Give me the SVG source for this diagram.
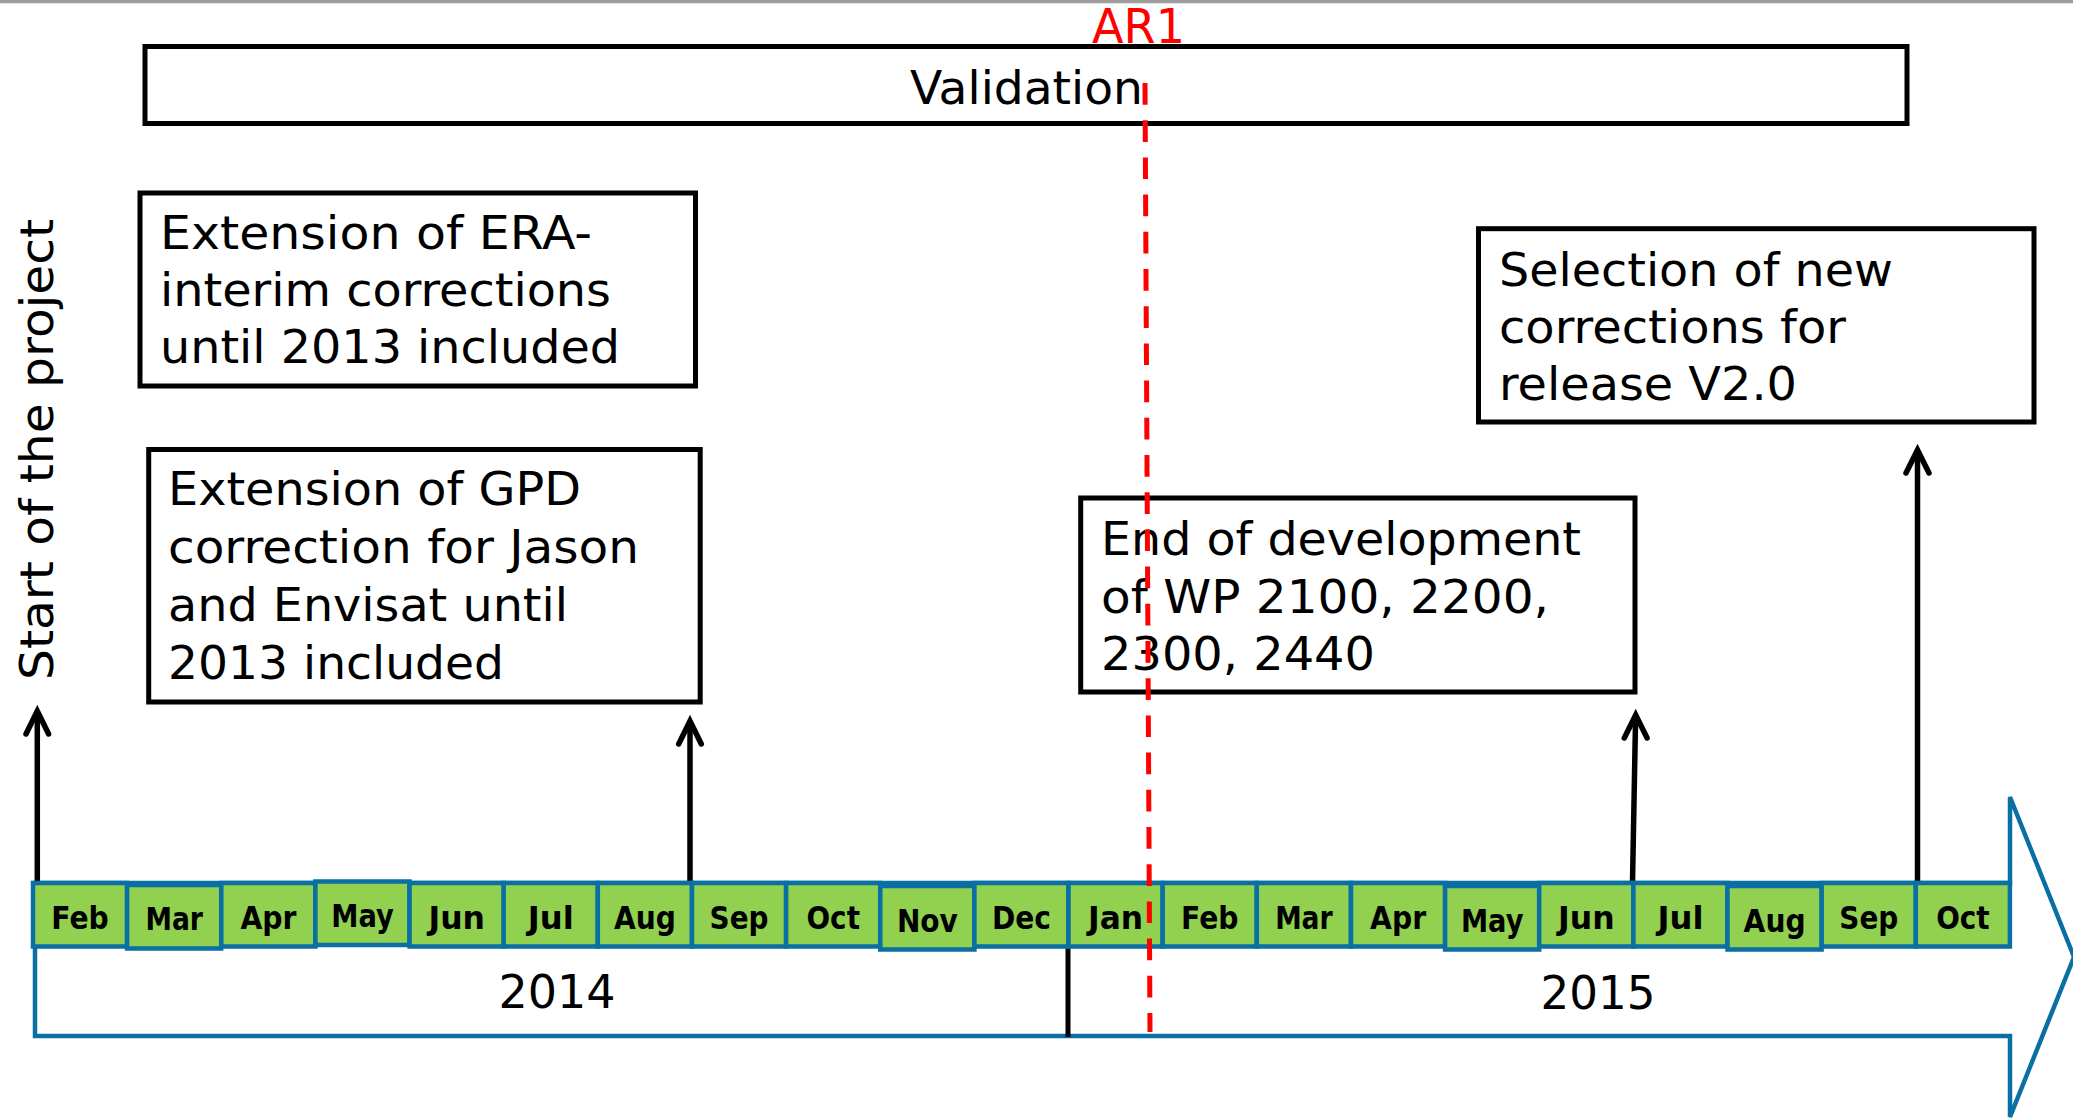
<svg xmlns="http://www.w3.org/2000/svg" width="2073" height="1118" viewBox="0 0 2073 1118">
<style>
.box{fill:#ffffff;stroke:#000000;stroke-width:5}
.txt{font-family:"DejaVu Sans","Verdana",sans-serif;font-size:46px;fill:#000000}
.mon{fill:#92d050;stroke:#0a6fa2;stroke-width:4.5}
.ml{font-family:"DejaVu Sans","Verdana",sans-serif;font-size:32px;font-weight:bold;fill:#000000;text-anchor:middle}
.yr{font-family:"DejaVu Sans","Verdana",sans-serif;font-size:47px;fill:#000000;text-anchor:middle}
.arr{fill:none;stroke:#000000;stroke-width:5.5;stroke-linecap:round;stroke-linejoin:miter}
</style>
<rect x="0" y="0" width="2073" height="1118" fill="#ffffff"/>
<rect x="0" y="0" width="2073" height="3.3" fill="#9d9d9d"/>

<g id="timeline">
<path d="M35,883 H2010 V797 L2074,957 L2010,1117 V1036 H35 Z" fill="#ffffff" stroke="#0a6fa2" stroke-width="4.5" stroke-linejoin="miter"/>
<line x1="1068" y1="948" x2="1068" y2="1037" stroke="#000000" stroke-width="5"/>
<text class="yr" x="557" y="1008" textLength="117" lengthAdjust="spacingAndGlyphs">2014</text>
<text class="yr" x="1598" y="1009" textLength="115" lengthAdjust="spacingAndGlyphs">2015</text>
</g>

<g id="connectors">
<line class="arr" x1="37.3" y1="882" x2="37.3" y2="713"/>
<polyline class="arr" points="26,734 37.3,711 48.6,734"/>
<line class="arr" x1="690" y1="882" x2="690" y2="723"/>
<polyline class="arr" points="678.7,744 690,721 701.3,744"/>
<line class="arr" x1="1632.5" y1="883" x2="1635.6" y2="717"/>
<polyline class="arr" points="1624.3,738 1635.7,715 1647.1,738"/>
<line class="arr" x1="1917.5" y1="882" x2="1917.5" y2="452"/>
<polyline class="arr" points="1906,473 1917.5,450 1929,473"/>
</g>

<g id="months">
<g id="m-feb14"><rect class="mon" x="33" y="883" width="94.1" height="63.5"/><text class="ml" x="80" y="928.5" textLength="57.5" lengthAdjust="spacingAndGlyphs">Feb</text></g>
<g id="m-mar14"><rect class="mon" x="127.1" y="885" width="94.1" height="63.5"/><text class="ml" x="174.2" y="930" textLength="57.5" lengthAdjust="spacingAndGlyphs">Mar</text></g>
<g id="m-apr14"><rect class="mon" x="221.3" y="883" width="94.1" height="63.5"/><text class="ml" x="268.4" y="928.5" textLength="56" lengthAdjust="spacingAndGlyphs">Apr</text></g>
<g id="m-may14"><rect class="mon" x="315.4" y="881.5" width="94.1" height="63.5"/><text class="ml" x="362.5" y="927" textLength="62.5" lengthAdjust="spacingAndGlyphs">May</text></g>
<g id="m-jun14"><rect class="mon" x="409.6" y="883" width="94.1" height="63.5"/><text class="ml" x="456.7" y="928.5" textLength="56.5" lengthAdjust="spacingAndGlyphs">Jun</text></g>
<g id="m-jul14"><rect class="mon" x="503.7" y="883" width="94.1" height="63.5"/><text class="ml" x="550.8" y="928.5" textLength="46" lengthAdjust="spacingAndGlyphs">Jul</text></g>
<g id="m-aug14"><rect class="mon" x="597.8" y="883" width="94.1" height="63.5"/><text class="ml" x="644.9" y="928.5" textLength="62" lengthAdjust="spacingAndGlyphs">Aug</text></g>
<g id="m-sep14"><rect class="mon" x="692" y="883" width="94.1" height="63.5"/><text class="ml" x="739.1" y="928.5" textLength="59" lengthAdjust="spacingAndGlyphs">Sep</text></g>
<g id="m-oct14"><rect class="mon" x="786.1" y="883" width="94.1" height="63.5"/><text class="ml" x="833.2" y="928.5" textLength="53.5" lengthAdjust="spacingAndGlyphs">Oct</text></g>
<g id="m-nov14"><rect class="mon" x="880.3" y="886" width="94.1" height="63.5"/><text class="ml" x="927.4" y="931.5" textLength="61" lengthAdjust="spacingAndGlyphs">Nov</text></g>
<g id="m-dec14"><rect class="mon" x="974.4" y="883" width="94.1" height="63.5"/><text class="ml" x="1021.5" y="928.5" textLength="59" lengthAdjust="spacingAndGlyphs">Dec</text></g>
<g id="m-jan15"><rect class="mon" x="1068.5" y="883" width="94.1" height="63.5"/><text class="ml" x="1115.6" y="928.5" textLength="55" lengthAdjust="spacingAndGlyphs">Jan</text></g>
<g id="m-feb15"><rect class="mon" x="1162.7" y="883" width="94.1" height="63.5"/><text class="ml" x="1209.8" y="928.5" textLength="57.5" lengthAdjust="spacingAndGlyphs">Feb</text></g>
<g id="m-mar15"><rect class="mon" x="1256.8" y="883" width="94.1" height="63.5"/><text class="ml" x="1303.9" y="928.5" textLength="57.5" lengthAdjust="spacingAndGlyphs">Mar</text></g>
<g id="m-apr15"><rect class="mon" x="1351" y="883" width="94.1" height="63.5"/><text class="ml" x="1398.1" y="928.5" textLength="56" lengthAdjust="spacingAndGlyphs">Apr</text></g>
<g id="m-may15"><rect class="mon" x="1445.1" y="886" width="94.1" height="63.5"/><text class="ml" x="1492.2" y="931.5" textLength="62.5" lengthAdjust="spacingAndGlyphs">May</text></g>
<g id="m-jun15"><rect class="mon" x="1539.2" y="883" width="94.1" height="63.5"/><text class="ml" x="1586.3" y="928.5" textLength="56.5" lengthAdjust="spacingAndGlyphs">Jun</text></g>
<g id="m-jul15"><rect class="mon" x="1633.4" y="883" width="94.1" height="63.5"/><text class="ml" x="1680.5" y="928.5" textLength="46" lengthAdjust="spacingAndGlyphs">Jul</text></g>
<g id="m-aug15"><rect class="mon" x="1727.5" y="886" width="94.1" height="63.5"/><text class="ml" x="1774.6" y="931.5" textLength="62" lengthAdjust="spacingAndGlyphs">Aug</text></g>
<g id="m-sep15"><rect class="mon" x="1821.7" y="883" width="94.1" height="63.5"/><text class="ml" x="1868.8" y="928.5" textLength="59" lengthAdjust="spacingAndGlyphs">Sep</text></g>
<g id="m-oct15"><rect class="mon" x="1915.8" y="883" width="94.1" height="63.5"/><text class="ml" x="1962.9" y="928.5" textLength="53.5" lengthAdjust="spacingAndGlyphs">Oct</text></g>
</g>

<g id="validation">
<rect class="box" x="145" y="46.5" width="1762" height="77"/>
<text class="txt" x="910" y="104" textLength="233" lengthAdjust="spacingAndGlyphs">Validation</text>
</g>

<g id="start">
<text class="txt" font-size="44" transform="translate(53,680) rotate(-90)" x="0" y="0" textLength="461" lengthAdjust="spacingAndGlyphs">Start of the project</text>
</g>

<g id="era">
<rect class="box" x="140" y="193" width="555.5" height="193"/>
<text class="txt" x="160" y="249" textLength="432" lengthAdjust="spacingAndGlyphs">Extension of ERA-</text>
<text class="txt" x="160" y="306" textLength="451" lengthAdjust="spacingAndGlyphs">interim corrections</text>
<text class="txt" x="160" y="363" textLength="460" lengthAdjust="spacingAndGlyphs">until 2013 included</text>
</g>

<g id="gpd">
<rect class="box" x="148.7" y="449.5" width="551.5" height="252.5"/>
<text class="txt" x="168" y="505" textLength="413" lengthAdjust="spacingAndGlyphs">Extension of GPD</text>
<text class="txt" x="168" y="563" textLength="471" lengthAdjust="spacingAndGlyphs">correction for Jason</text>
<text class="txt" x="168" y="621" textLength="400" lengthAdjust="spacingAndGlyphs">and Envisat until</text>
<text class="txt" x="168" y="679" textLength="336" lengthAdjust="spacingAndGlyphs">2013 included</text>
</g>

<g id="selection">
<rect class="box" x="1478.5" y="228.7" width="555.5" height="193.3"/>
<text class="txt" x="1499" y="286" textLength="394" lengthAdjust="spacingAndGlyphs">Selection of new</text>
<text class="txt" x="1499" y="343" textLength="347" lengthAdjust="spacingAndGlyphs">corrections for</text>
<text class="txt" x="1499" y="400" textLength="298" lengthAdjust="spacingAndGlyphs">release V2.0</text>
</g>

<g id="enddev">
<rect class="box" x="1080.7" y="498" width="554.3" height="194"/>
<text class="txt" x="1101" y="555" textLength="480" lengthAdjust="spacingAndGlyphs">End of development</text>
<text class="txt" x="1101" y="613" textLength="448" lengthAdjust="spacingAndGlyphs">of WP 2100, 2200,</text>
<text class="txt" x="1101" y="670" textLength="274" lengthAdjust="spacingAndGlyphs">2300, 2440</text>
</g>

<g id="ar1">
<text x="1092" y="43" font-family="DejaVu Sans, Verdana, sans-serif" font-size="48" fill="#ff0000" textLength="93" lengthAdjust="spacingAndGlyphs">AR1</text>
<line x1="1145" y1="83" x2="1150" y2="1032" stroke="#ff0000" stroke-width="5" stroke-dasharray="21.7 15.5"/>
</g>
</svg>
